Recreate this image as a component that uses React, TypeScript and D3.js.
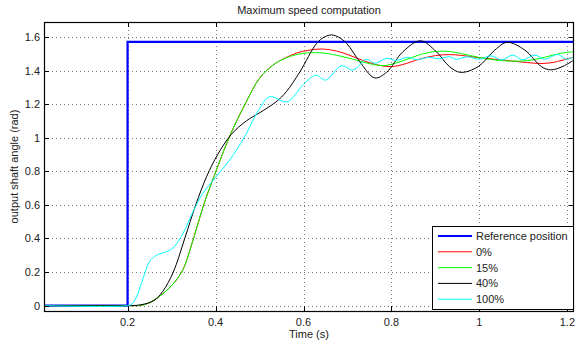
import React, { useEffect, useRef } from 'react';
import * as d3 from 'd3';

type Pt = [number, number];

// time (s), output shaft angle (rad)
const refSeries: Pt[] = [
  [0.01, 0], [0.2, 0], [0.2, Math.PI / 2], [1.215, Math.PI / 2],
];

const series0: Pt[] = [
  [0.01, 0], [0.2, 0], [0.23, 0.002], [0.25, 0.018], [0.29, 0.093], [0.323, 0.2],
  [0.35, 0.4], [0.373, 0.6], [0.398, 0.78], [0.435, 1.026], [0.47, 1.214], [0.5, 1.354],
  [0.531, 1.433], [0.561, 1.478], [0.585, 1.505], [0.61, 1.52], [0.635, 1.528], [0.66, 1.524],
  [0.69, 1.505], [0.713, 1.482], [0.751, 1.446], [0.78, 1.427], [0.804, 1.424],
  [0.826, 1.436], [0.864, 1.468], [0.9, 1.489], [0.932, 1.495], [0.959, 1.49], [0.997, 1.477],
  [1.035, 1.467], [1.073, 1.457], [1.11, 1.447], [1.14, 1.442], [1.165, 1.447],
  [1.19, 1.462], [1.215, 1.48],
];

const series15: Pt[] = [
  [0.01, 0], [0.2, 0], [0.23, 0.002], [0.25, 0.018], [0.29, 0.093], [0.323, 0.2],
  [0.35, 0.4], [0.373, 0.6], [0.398, 0.78], [0.435, 1.026], [0.47, 1.214], [0.5, 1.354],
  [0.531, 1.433], [0.561, 1.476], [0.599, 1.502], [0.637, 1.506], [0.675, 1.491],
  [0.713, 1.467], [0.751, 1.44], [0.785, 1.43], [0.826, 1.458], [0.864, 1.494],
  [0.902, 1.514], [0.932, 1.513], [0.959, 1.501], [0.997, 1.479], [1.035, 1.463],
  [1.073, 1.456], [1.11, 1.459], [1.148, 1.479], [1.186, 1.503], [1.215, 1.512],
];

const series40: Pt[] = [
  [0.01, 0], [0.2, 0], [0.23, 0.005], [0.26, 0.03], [0.28, 0.085], [0.304, 0.2],
  [0.33, 0.4], [0.355, 0.6], [0.38, 0.77], [0.405, 0.9], [0.436, 1.02], [0.47, 1.1],
  [0.5, 1.148], [0.538, 1.214], [0.561, 1.274], [0.592, 1.393], [0.63, 1.562], [0.648, 1.6],
  [0.664, 1.612], [0.68, 1.598], [0.698, 1.562], [0.728, 1.452], [0.762, 1.356],
  [0.789, 1.39], [0.826, 1.512], [0.866, 1.577], [0.902, 1.512], [0.932, 1.423],
  [0.957, 1.389], [0.997, 1.423], [1.035, 1.522], [1.063, 1.568], [1.103, 1.522],
  [1.141, 1.423], [1.162, 1.404], [1.19, 1.425], [1.215, 1.463],
];

const series100: Pt[] = [
  [0.01, 0], [0.2, 0], [0.21, 0.01], [0.22, 0.05], [0.235, 0.16], [0.25, 0.262],
  [0.266, 0.3], [0.289, 0.322], [0.304, 0.345], [0.326, 0.43], [0.349, 0.56],
  [0.37, 0.665], [0.399, 0.76], [0.432, 0.867], [0.465, 1.0], [0.497, 1.16],
  [0.523, 1.244], [0.563, 1.214], [0.6, 1.318], [0.628, 1.372], [0.65, 1.343],
  [0.686, 1.428], [0.713, 1.403], [0.743, 1.467], [0.762, 1.443],
  [0.789, 1.473], [0.81, 1.46], [0.838, 1.479], [0.857, 1.465], [0.887, 1.479],
  [0.906, 1.47], [0.932, 1.482], [0.948, 1.467], [0.972, 1.482], [1.0, 1.467],
  [1.027, 1.488], [1.05, 1.463], [1.076, 1.492], [1.098, 1.463], [1.126, 1.492],
  [1.148, 1.467], [1.178, 1.496], [1.197, 1.467], [1.215, 1.482],
];

const legendLabels = ['Reference position', '0%', '15%', '40%', '100%'];
const seriesColors = ['#0000ff', '#ff0000', '#00ff00', '#000000', '#00ffff'];
const xTicks = [0.2, 0.4, 0.6, 0.8, 1, 1.2];
const yTicks = [0, 0.2, 0.4, 0.6, 0.8, 1, 1.2, 1.4, 1.6];

export default function App() {
  const svgRef = useRef<SVGSVGElement>(null);

  useEffect(() => {
    document.body.style.margin = '0';
    if (!svgRef.current) return;
    const width = 576;
    const height = 346;
    const margin = { top: 22, right: 2, bottom: 35, left: 44 };
    const font = 'Liberation Sans, Arial, sans-serif';

    const root = d3.select(svgRef.current);
    root.selectAll('*').remove();
    root.attr('width', width).attr('height', height);

    root.append('rect').attr('width', width).attr('height', height).attr('fill', '#fff');

    const x = d3.scaleLinear().domain([0.01, 1.215]).range([margin.left, width - margin.right]);
    const y = d3.scaleLinear().domain([-0.032, 1.689]).range([height - margin.bottom, margin.top]);
    const [x0, x1] = x.range();
    const [y0, y1] = y.range();

    // Grid
    const grid = root.append('g').attr('stroke', '#777').attr('stroke-width', 1).attr('stroke-dasharray', '1,3');
    xTicks.forEach((t) => {
      const px = Math.round(x(t)) + 0.5;
      grid.append('line').attr('x1', px).attr('x2', px).attr('y1', y1).attr('y2', y0);
    });
    yTicks.forEach((t) => {
      const py = Math.round(y(t)) + 0.5;
      grid.append('line').attr('x1', x0).attr('x2', x1).attr('y1', py).attr('y2', py);
    });

    // Curves
    const all = [refSeries, series0, series15, series40, series100];
    const clip = root.append('clipPath').attr('id', 'plotclip');
    clip.append('rect').attr('x', x0).attr('y', y1).attr('width', x1 - x0).attr('height', y0 - y1);
    const plot = root.append('g').attr('clip-path', 'url(#plotclip)');
    all.forEach((s, i) => {
      const line = d3
        .line<Pt>()
        .x((d) => x(d[0]))
        .y((d) => y(d[1]))
        .curve(i === 0 ? d3.curveLinear : d3.curveCatmullRom.alpha(0.5));
      plot
        .append('path')
        .datum(s)
        .attr('d', line)
        .attr('fill', 'none')
        .attr('stroke', seriesColors[i])
        .attr('stroke-width', i === 0 ? 2.2 : 1);
    });

    // Box and ticks
    root
      .append('rect')
      .attr('x', x0 + 0.5)
      .attr('y', y1 + 0.5)
      .attr('width', x1 - x0 - 1)
      .attr('height', y0 - y1)
      .attr('fill', 'none')
      .attr('stroke', '#000')
      .attr('stroke-width', 1.2);

    const ticks = root.append('g').attr('stroke', '#000').attr('stroke-width', 1);
    const tl = 5;
    xTicks.forEach((t) => {
      const px = Math.round(x(t)) + 0.5;
      ticks.append('line').attr('x1', px).attr('x2', px).attr('y1', y0).attr('y2', y0 - tl);
      ticks.append('line').attr('x1', px).attr('x2', px).attr('y1', y1).attr('y2', y1 + tl);
    });
    yTicks.forEach((t) => {
      const py = Math.round(y(t)) + 0.5;
      ticks.append('line').attr('x1', x0).attr('x2', x0 + tl).attr('y1', py).attr('y2', py);
      ticks.append('line').attr('x1', x1).attr('x2', x1 - tl).attr('y1', py).attr('y2', py);
    });

    const labels = root.append('g').attr('font-family', font).attr('font-size', 11).attr('fill', '#222');
    xTicks.forEach((t) => {
      labels
        .append('text')
        .attr('x', x(t))
        .attr('y', y0 + 15)
        .attr('text-anchor', 'middle')
        .text(String(t));
    });
    yTicks.forEach((t) => {
      labels
        .append('text')
        .attr('x', x0 - 4)
        .attr('y', y(t) + 4)
        .attr('text-anchor', 'end')
        .text(String(t));
    });

    labels
      .append('text')
      .attr('x', (x0 + x1) / 2)
      .attr('y', 14)
      .attr('text-anchor', 'middle')
      .text('Maximum speed computation');
    labels
      .append('text')
      .attr('x', (x0 + x1) / 2)
      .attr('y', y0 + 27)
      .attr('text-anchor', 'middle')
      .text('Time (s)');
    labels
      .append('text')
      .attr('transform', `translate(18, ${(y0 + y1) / 2}) rotate(-90)`)
      .attr('text-anchor', 'middle')
      .text('output shaft angle (rad)');

    // Legend
    const lg = root.append('g').attr('transform', 'translate(432, 226)');
    lg.append('rect')
      .attr('x', 0.5)
      .attr('y', 0.5)
      .attr('width', 141)
      .attr('height', 83)
      .attr('fill', '#fff')
      .attr('stroke', '#000')
      .attr('stroke-width', 1);
    legendLabels.forEach((lab, i) => {
      const ly = 10 + i * 15.8;
      lg.append('line')
        .attr('x1', 6)
        .attr('x2', 40)
        .attr('y1', ly)
        .attr('y2', ly)
        .attr('stroke', seriesColors[i])
        .attr('stroke-width', i === 0 ? 2.2 : 1);
      lg.append('text')
        .attr('x', 44)
        .attr('y', ly + 4)
        .attr('font-family', font)
        .attr('font-size', 11)
        .attr('fill', '#222')
        .text(lab);
    });
  }, []);

  return <svg ref={svgRef}></svg>;
}
